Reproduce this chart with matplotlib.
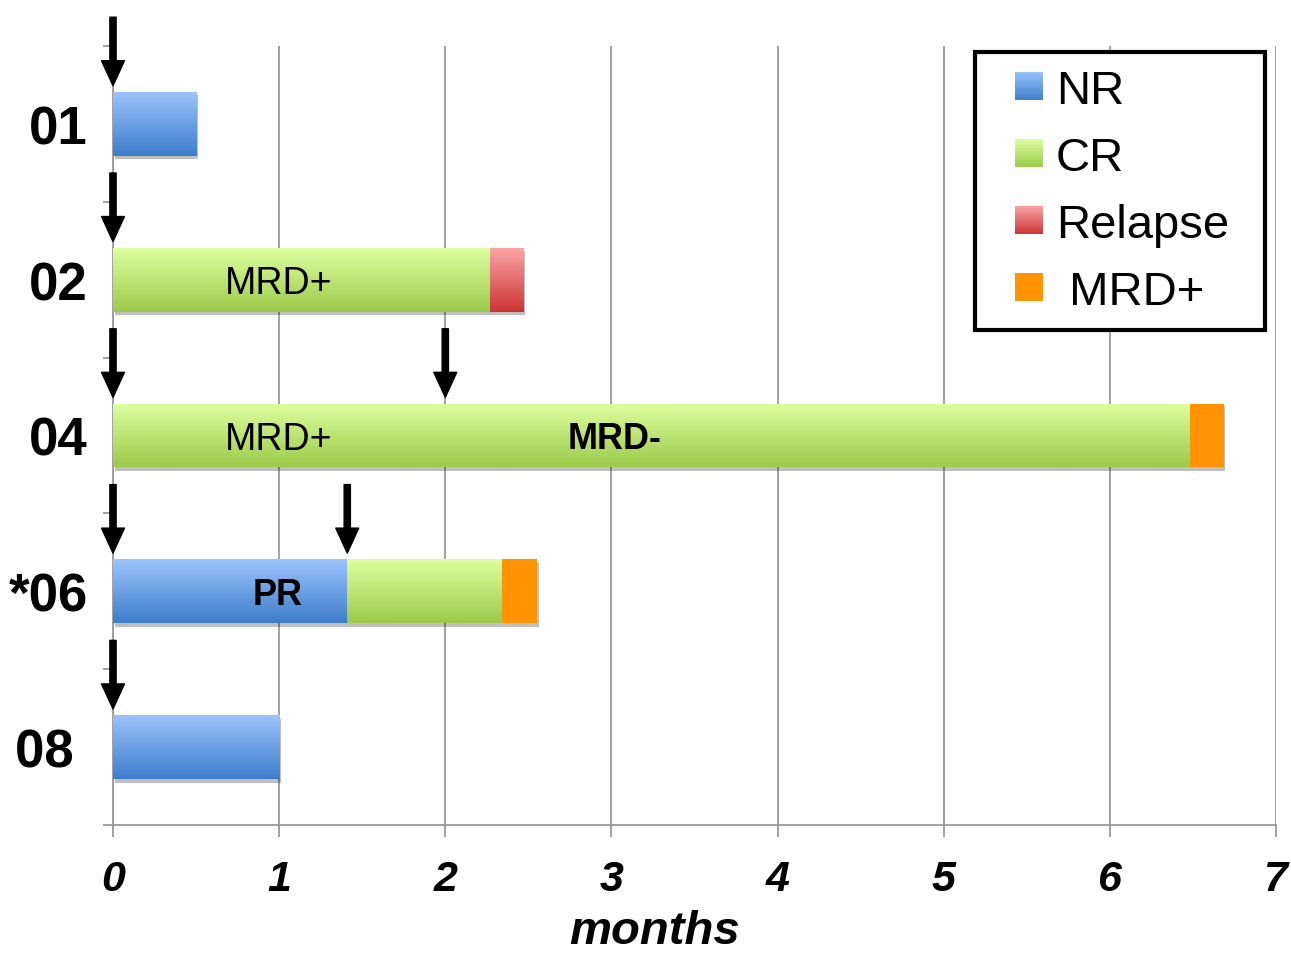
import numpy as np
import matplotlib.pyplot as plt
from matplotlib.patches import Patch, Rectangle
from matplotlib.legend_handler import HandlerBase
from matplotlib.colors import to_rgb
import matplotlib.patheffects as pe

plt.rcParams['font.family'] = ['Liberation Sans', 'DejaVu Sans']

# ===== DATA =====
patients = ['01', '02', '04', '*06', '08 ']
nr_months = [0.5, 0, 0, 1.41, 1.0]
cr_months = [0, 2.27, 6.48, 0.93, 0]
relapse_months = [0, 0.2, 0, 0, 0]
mrd_months = [0, 0, 0.2, 0.21, 0]

# arrows: (patient index, month)
arrow_rows = [0, 1, 2, 2, 3, 3, 4]
arrow_months = [0, 0, 0, 2.0, 0, 1.41, 0]

# labels inside bars: (patient index, month, text, bold)
bar_texts = [(1, 1.0, 'MRD+', False), (2, 1.0, 'MRD+', False),
             (2, 3.02, 'MRD-', True), (3, 0.99, 'PR', True)]

legend_keys = ['NR', 'CR', 'Relapse', 'MRD+']
legend_labels = ['NR', 'CR', 'Relapse', ' MRD+']

# ===== STYLE =====
grads = {
    'NR': ('#9cc3fd', '#3d7ecc'),
    'CR': ('#ddffa0', '#9dca4a'),
    'Relapse': ('#fba4a4', '#cc3535'),
    'MRD+': ('#ff9300', '#ff9300'),
}
BAR_H = 0.41
GRID = '#9a9a9a'

fig = plt.figure(figsize=(12.91, 9.54), dpi=100)
ax = fig.add_axes([113/1291, 1-826/954, (1276-113)/1291, (826-47)/954])


def gradient_bar(y, left, width, key):
    if width <= 0:
        return
    top_c, bot_c = grads[key]
    bar = ax.barh(y, width, left=left, height=BAR_H, color=bot_c, linewidth=0, zorder=2)[0]
    bar.set_path_effects([pe.SimplePatchShadow(offset=(1.5, -2.5), shadow_rgbFace='k', alpha=0.25),
                          pe.Normal()])
    t = np.linspace(0, 1, 64)[:, None, None]
    img = (1 - t) * np.array(to_rgb(top_c)) + t * np.array(to_rgb(bot_c))
    im = ax.imshow(img, extent=(left, left + width, y + BAR_H/2, y - BAR_H/2),
                   aspect='auto', origin='upper', zorder=3, interpolation='bilinear')
    im.set_clip_path(bar)


ypos = np.arange(len(patients))
for i in ypos:
    left = 0
    for key, vals in [('NR', nr_months), ('CR', cr_months),
                      ('Relapse', relapse_months), ('MRD+', mrd_months)]:
        gradient_bar(i, left, vals[i], key)
        left += vals[i]

for i, x, txt, bold in bar_texts:
    ax.text(x, i + 0.02, txt, ha='center', va='center', fontsize=26 if bold else 27,
            fontweight='bold' if bold else 'normal', zorder=5)

for r, m in zip(arrow_rows, arrow_months):
    tip = r - BAR_H/2 - 0.04
    ax.annotate('', xy=(m, tip), xytext=(m, tip - 0.44),
                arrowprops=dict(arrowstyle='simple,head_width=16.5,head_length=18,tail_width=4.5',
                                mutation_scale=1, color='black', shrinkA=0, shrinkB=0),
                annotation_clip=False, zorder=6)

# ===== AXES =====
ax.set_xlim(0, 7)
ax.set_ylim(len(patients) - 0.5, -0.5)
ax.set_xticks(range(8))
ax.set_xticklabels([str(v) for v in range(8)], fontsize=31, fontweight='bold', style='italic')
ax.set_yticks(ypos)
ax.set_yticklabels(patients, fontsize=38, fontweight='bold')
ax.set_yticks(np.arange(-0.5, len(patients), 1), minor=True)
ax.tick_params(axis='y', which='major', length=0, pad=18)
ax.tick_params(axis='y', which='minor', length=7, width=1.3, color=GRID)
ax.tick_params(axis='x', length=8.5, width=1.3, color=GRID, pad=16)
ax.xaxis.grid(True, color=GRID, lw=1.3)
ax.set_axisbelow(True)
for s in ['top', 'right']:
    ax.spines[s].set_visible(False)
for s in ['left', 'bottom']:
    ax.spines[s].set_color(GRID)
    ax.spines[s].set_linewidth(1.3)

ax.set_xlabel('months', fontsize=34, fontweight='bold', style='italic')
ax.xaxis.set_label_coords(0.466, -0.108)


# legend: gradient square at the right end of a wider handle box
class GradientSquare(HandlerBase):
    def create_artists(self, legend, orig_handle, xdescent, ydescent,
                       width, height, fontsize, trans):
        top_c, bot_c = grads[orig_handle.get_label()]
        x0 = -xdescent + width - height
        n = 12
        arts = []
        for k in range(n):
            f = (k + 0.5) / n
            c = (1 - f) * np.array(to_rgb(top_c)) + f * np.array(to_rgb(bot_c))
            arts.append(Rectangle((x0, -ydescent + height * (1 - (k + 1) / n)), height,
                                  height / n * 1.05, facecolor=c, edgecolor='none',
                                  transform=trans))
        return arts


handles = [Patch(label=k) for k in legend_keys]
leg = ax.legend(handles, legend_labels, loc='upper left', fontsize=34,
                bbox_to_anchor=(975/1291, 1-53/954 - 0.3, 290/1291, 0.3),
                bbox_transform=fig.transFigure, mode='expand',
                handler_map={Patch: GradientSquare()},
                handlelength=1.085, handleheight=0.53, handletextpad=0.28,
                labelspacing=0.49, borderpad=0.35, borderaxespad=0, fancybox=False,
                framealpha=1)
leg.get_frame().set_edgecolor('black')
leg.get_frame().set_linewidth(3)
leg.set_zorder(10)

fig.savefig('out.png', dpi=100)
